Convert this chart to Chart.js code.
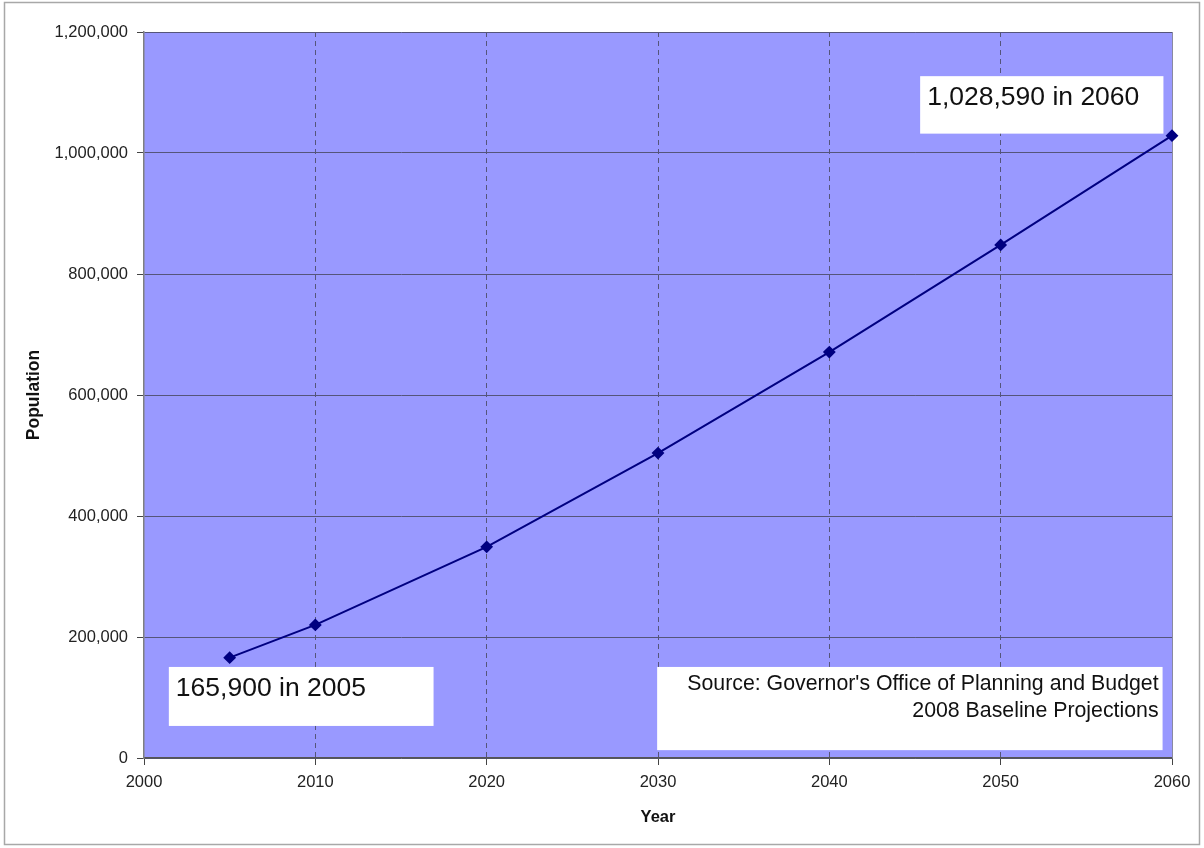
<!DOCTYPE html>
<html><head><meta charset="utf-8">
<script src="https://cdn.jsdelivr.net/npm/chart.js@4"></script>
<style>html,body{margin:0;padding:0;background:#fff}canvas{display:block}</style>
</head><body>
<canvas id="c" width="1204" height="848"></canvas>
<script>
// ---- data ----
const years = [2005, 2010, 2020, 2030, 2040, 2050, 2060];
const population = [165900, 220000, 349000, 504000, 671000, 848000, 1028590];
const xTickValues = [2000, 2010, 2020, 2030, 2040, 2050, 2060];
const xTickLabels = ['2000', '2010', '2020', '2030', '2040', '2050', '2060'];
const yTickValues = [0, 200000, 400000, 600000, 800000, 1000000, 1200000];
const yTickLabels = ['0', '200,000', '400,000', '600,000', '800,000', '1,000,000', '1,200,000'];
const xTitle = 'Year';
const yTitle = 'Population';
const noteFirst = ['165,900 in 2005'];
const noteLast = ['1,028,590 in 2060'];
const noteSource = ["Source: Governor's Office of Planning and Budget", '2008 Baseline Projections'];

// annotation boxes (placed in data units through the scales)
const notes = [
  {x0: 2001.45, x1: 2016.9, y0: 150500, y1: 53000, lines: noteFirst, size: 26.5, align: 'left', lh: 30},
  {x0: 2045.3, x1: 2059.5, y0: 1127000, y1: 1032000, lines: noteLast, size: 26.5, align: 'left', lh: 30},
  {x0: 2029.95, x1: 2059.45, y0: 150500, y1: 13000, lines: noteSource, size: 21.3, align: 'right', lh: 27}
];

const FONT = "'Liberation Sans', Arial, Helvetica, sans-serif";

const deco = {
  id: 'deco',
  beforeDraw(chart) {
    const {ctx, chartArea: a} = chart;
    ctx.save();
    ctx.fillStyle = '#fff';
    ctx.fillRect(0, 0, chart.width, chart.height);
    ctx.fillStyle = '#9999ff';
    ctx.fillRect(a.left, a.top, a.right - a.left, a.bottom - a.top);
    ctx.restore();
  },
  beforeDatasetsDraw(chart) {
    const {ctx, chartArea: a} = chart;
    const xs = chart.scales.x, ys = chart.scales.y;
    ctx.save();
    // right edge of plot
    ctx.strokeStyle = '#8a8aa0';
    ctx.lineWidth = 1;
    ctx.beginPath();
    ctx.moveTo(Math.round(a.right) + 0.5, a.top);
    ctx.lineTo(Math.round(a.right) + 0.5, a.bottom);
    ctx.stroke();
    notes.forEach(n => {
      const l = xs.getPixelForValue(n.x0), r = xs.getPixelForValue(n.x1);
      const t = ys.getPixelForValue(n.y0), b = ys.getPixelForValue(n.y1);
      ctx.fillStyle = '#ffffff';
      ctx.fillRect(l, t, r - l, b - t);
      ctx.fillStyle = '#111';
      ctx.font = n.size + 'px ' + FONT;
      ctx.textBaseline = 'alphabetic';
      ctx.textAlign = n.align;
      const tx = n.align === 'left' ? l + 7 : r - 4;
      n.lines.forEach((s, i) => {
        ctx.fillText(s, tx, t + (n.align === 'left' ? 29 : 23) + i * n.lh);
      });
    });
    ctx.restore();
  },
  afterDraw(chart) {
    const ctx = chart.ctx;
    ctx.save();
    ctx.strokeStyle = '#a8a8a8';
    ctx.lineWidth = 1.5;
    ctx.strokeRect(4.5, 2.5, 1195, 842);
    ctx.restore();
  }
};

new Chart(document.getElementById('c'), {
  type: 'line',
  data: {
    datasets: [{
      data: years.map((yr, i) => ({x: yr, y: population[i]})),
      borderColor: '#000080',
      backgroundColor: '#000080',
      borderWidth: 2,
      tension: 0,
      pointStyle: 'rectRot',
      pointRadius: 5,
      pointBackgroundColor: '#000080',
      pointBorderColor: '#000080',
      clip: false
    }]
  },
  options: {
    responsive: false,
    animation: false,
    layout: {padding: {top: 32, right: 32, left: 0, bottom: 0}},
    plugins: {legend: {display: false}, tooltip: {enabled: false}},
    scales: {
      x: {
        type: 'linear',
        min: 2000, max: 2060,
        afterBuildTicks(s) { s.ticks = xTickValues.map(v => ({value: v})); },
        afterFit(s) { s.height = 90; },
        ticks: {
          callback: (v, i) => xTickLabels[i],
          color: '#222', padding: 8, maxRotation: 0, autoSkip: false,
          font: {family: FONT, size: 16.5}
        },
        grid: {
          color: c => (c.tick && (c.tick.value === 2000 || c.tick.value === 2060)) ? 'rgba(0,0,0,0)' : '#55557a',
          lineWidth: 1,
          drawTicks: true, tickLength: 7, tickColor: '#444',
          tickBorderDash: []
        },
        border: {display: true, color: '#555', width: 1.5, dash: [5, 4]},
        title: {
          display: true, text: xTitle, color: '#111',
          font: {family: FONT, size: 16.5, weight: 'bold'},
          padding: {top: 4, bottom: 21}
        }
      },
      y: {
        min: 0, max: 1200000,
        afterBuildTicks(s) { s.ticks = yTickValues.map(v => ({value: v})); },
        afterFit(s) { s.width = 144; },
        ticks: {
          callback: (v, i) => yTickLabels[i],
          color: '#222', padding: 9, autoSkip: false,
          font: {family: FONT, size: 16.5}
        },
        grid: {
          color: '#55557a', lineWidth: 1,
          drawTicks: true, tickLength: 7, tickColor: '#444'
        },
        border: {display: true, color: '#808080', width: 1.5},
        title: {
          display: true, text: yTitle, color: '#111',
          font: {family: FONT, size: 17.5, weight: 'bold'},
          padding: {top: 24, bottom: 4}
        }
      }
    }
  },
  plugins: [deco]
});
</script>
</body></html>
